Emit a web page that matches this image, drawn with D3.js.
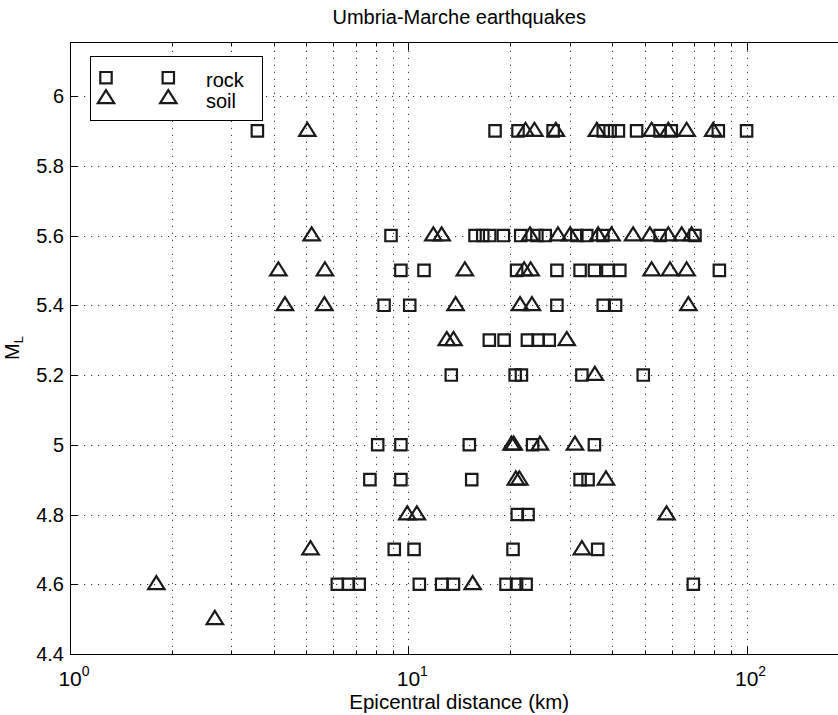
<!DOCTYPE html>
<html>
<head>
<meta charset="utf-8">
<script src="https://d3js.org/d3.v7.min.js"></script>
<style>
  body { margin: 0; background: white; }
  text { font-family: "Liberation Sans", Arial, Helvetica, sans-serif; fill: #000; }
</style>
</head>
<body>
<div id="chart"></div>
<script>
// magnitude rows (ML) and the epicentral distances (km)
var levels = [5.9, 5.6, 5.5, 5.4, 5.3, 5.2, 5.0, 4.9, 4.8, 4.7, 4.6, 4.5];

var rockKm = [
  [3.58, 18.05, 21.1, 26.8, 37.7, 39.5, 41.8, 47.3, 55.5, 59.9, 82.5, 100],
  [8.89, 15.75, 16.6, 17.4, 19.1, 21.5, 24.0, 25.4, 31.5, 33.7, 37.6, 55.5, 70.4],
  [9.51, 11.13, 20.9, 27.5, 32.2, 35.5, 38.9, 42.2, 83.1],
  [8.48, 10.1, 27.5, 37.7, 41.0],
  [17.36, 19.2, 22.5, 24.2, 26.1],
  [13.4, 20.7, 21.6, 32.6, 49.5],
  [8.12, 9.51, 15.15, 23.3, 35.5],
  [7.7, 9.51, 15.4, 32.2, 34.0],
  [21.0, 22.6],
  [9.09, 10.4, 20.4, 36.3],
  [6.17, 6.65, 7.16, 10.78, 12.55, 13.6, 19.45, 20.9, 22.3, 69.6],
  []
];

var soilKm = [
  [5.03, 22.2, 23.6, 27.3, 36.1, 52.4, 58.7, 66.5, 79.7],
  [5.18, 11.86, 12.55, 22.9, 27.7, 30.1, 36.4, 39.9, 46.2, 51.8, 58.7, 64.3, 68.8],
  [4.13, 5.67, 14.7, 22.0, 23.0, 52.4, 59.4, 66.5],
  [4.32, 5.65, 13.8, 21.4, 23.2, 67.3],
  [12.99, 13.6, 29.4],
  [35.6],
  [20.2, 20.5, 24.5, 31.1],
  [20.8, 21.3, 38.4],
  [9.93, 10.6, 58.0],
  [5.14, 32.6],
  [1.8, 15.5],
  [2.68]
];

var yTicks = [4.4, 4.6, 4.8, 5.0, 5.2, 5.4, 5.6, 5.8, 6.0];
var xDecades = [1, 10, 100];
var seriesNames = ["rock", "soil"];

var width = 838, height = 715;
var plot = {left: 70, top: 42, bottom: 654, right: 848.4};

var svg = d3.select("#chart").append("svg")
    .attr("width", width)
    .attr("height", height);

var x = d3.scaleLog().domain([1, 200]).range([plot.left, plot.right]);
var y = d3.scaleLinear().domain([4.4, 6.155]).range([plot.bottom, plot.top]);

// every 1..9 step of each decade inside the domain
var minorX = [];
for (var dec = 1; dec <= 100; dec *= 10) {
  for (var k = 1; k <= 9; k++) {
    if (dec * k <= 200) minorX.push(dec * k);
  }
}
minorX.push(200);

// grid
var grid = svg.append("g")
    .attr("stroke", "#3a3a3a")
    .attr("stroke-width", 1)
    .attr("stroke-dasharray", "1.2,5.8");

grid.selectAll("line.vx")
  .data(minorX.filter(function(d) { return d > 1 && d < 200; }))
  .enter().append("line")
    .attr("x1", function(d) { return Math.round(x(d)) + 0.5; })
    .attr("x2", function(d) { return Math.round(x(d)) + 0.5; })
    .attr("y1", plot.bottom)
    .attr("y2", plot.top);

grid.selectAll("line.hy")
  .data(yTicks.filter(function(d) { return d > 4.4; }))
  .enter().append("line")
    .attr("x1", plot.left)
    .attr("x2", plot.right)
    .attr("y1", function(d) { return Math.round(y(d)) + 0.5; })
    .attr("y2", function(d) { return Math.round(y(d)) + 0.5; });

// frame and inside ticks
var axes = svg.append("g").attr("stroke", "#000").attr("stroke-width", 1);
axes.append("rect")
    .attr("x", plot.left + 0.5)
    .attr("y", plot.top + 0.5)
    .attr("width", plot.right - plot.left)
    .attr("height", plot.bottom - plot.top)
    .attr("fill", "none");

axes.selectAll("line.yt")
  .data(yTicks)
  .enter().append("line")
    .attr("x1", plot.left)
    .attr("x2", plot.left + 8)
    .attr("y1", function(d) { return Math.round(y(d)) + 0.5; })
    .attr("y2", function(d) { return Math.round(y(d)) + 0.5; });

[plot.bottom, plot.top].forEach(function(edge) {
  var dir = edge === plot.bottom ? -1 : 1;
  axes.selectAll(null)
    .data(minorX)
    .enter().append("line")
      .attr("x1", function(d) { return Math.round(x(d)) + 0.5; })
      .attr("x2", function(d) { return Math.round(x(d)) + 0.5; })
      .attr("y1", edge + 0.5)
      .attr("y2", function(d) {
        var major = xDecades.indexOf(d) >= 0;
        return edge + 0.5 + dir * (major ? 8 : 4);
      });
});

// tick labels
svg.append("g").selectAll("text")
  .data(yTicks)
  .enter().append("text")
    .attr("x", 64)
    .attr("y", function(d) { return y(d); })
    .attr("dy", "0.36em")
    .attr("text-anchor", "end")
    .style("font-size", "20px")
    .text(function(d) { return String(Math.round(d * 10) / 10); });

var xl = svg.append("g").selectAll("text")
  .data(xDecades)
  .enter().append("text")
    .attr("x", function(d) { return x(d) + 4; })
    .attr("y", 686)
    .attr("text-anchor", "middle")
    .style("font-size", "21px");
xl.append("tspan").text("10");
xl.append("tspan")
    .attr("dy", -10)
    .style("font-size", "14px")
    .text(function(d) { return String(Math.round(Math.log10(d))); });

// titles
svg.append("text")
    .attr("x", (plot.left + plot.right) / 2)
    .attr("y", 24)
    .attr("text-anchor", "middle")
    .style("font-size", "20px")
    .text("Umbria-Marche earthquakes");

svg.append("text")
    .attr("x", (plot.left + plot.right) / 2)
    .attr("y", 709)
    .attr("text-anchor", "middle")
    .style("font-size", "20.5px")
    .text("Epicentral distance (km)");

var yl = svg.append("text")
    .attr("transform", "translate(19," + ((plot.top + plot.bottom) / 2) + ") rotate(-90)")
    .attr("text-anchor", "middle")
    .style("font-size", "20px");
yl.append("tspan").text("M");
yl.append("tspan").attr("dy", 4).style("font-size", "13px").text("L");

// markers
var squarePath = "M-5.7,-5.7H5.7V5.7H-5.7Z";
var trianglePath = "M0,-8.2L8.2,4.9L-8.2,4.9Z";

function points(rows) {
  var out = [];
  rows.forEach(function(list, i) {
    list.forEach(function(km) { out.push({km: km, ml: levels[i]}); });
  });
  return out;
}

var markStyle = function(sel) {
  sel.attr("fill", "none")
     .attr("stroke", "#1a1a1a")
     .attr("stroke-width", 2.2);
};

svg.append("g").selectAll("path")
  .data(points(rockKm))
  .enter().append("path")
    .attr("d", squarePath)
    .attr("transform", function(d) { return "translate(" + x(d.km) + "," + y(d.ml) + ")"; })
    .call(markStyle);

svg.append("g").selectAll("path")
  .data(points(soilKm))
  .enter().append("path")
    .attr("d", trianglePath)
    .attr("transform", function(d) { return "translate(" + x(d.km) + "," + y(d.ml) + ")"; })
    .call(markStyle);

// legend
var legend = svg.append("g");
legend.append("rect")
    .attr("x", 90.5).attr("y", 56.5)
    .attr("width", 172).attr("height", 64)
    .attr("fill", "white")
    .attr("stroke", "#000");

seriesNames.forEach(function(name, i) {
  var cy = 77.7 + i * 20.6;
  [106, 168.3].forEach(function(cx) {
    legend.append("path")
      .attr("d", i === 0 ? squarePath : trianglePath)
      .attr("transform", "translate(" + cx + "," + cy + ")")
      .call(markStyle);
  });
  legend.append("text")
    .attr("x", 206)
    .attr("y", cy + 9.3)
    .style("font-size", "20px")
    .text(name);
});
</script>
</body>
</html>
